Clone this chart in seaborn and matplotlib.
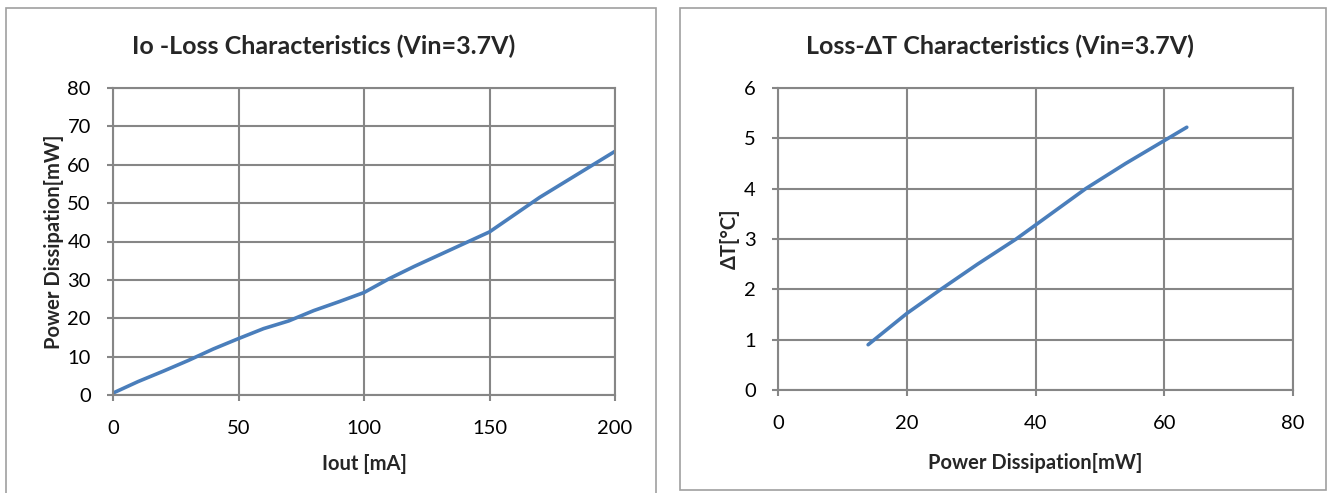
import numpy as np
import matplotlib.pyplot as plt
import pandas as pd
import seaborn as sns
from matplotlib.patches import Rectangle

# dane
iout_ma = [0, 10, 20, 30, 40, 50, 60, 70, 80, 90, 100, 110, 120, 130, 140, 150, 160, 170, 180, 190, 200]
loss_mw = [0.5, 3.5, 6.2, 9.0, 12.0, 14.7, 17.3, 19.3, 22.0, 24.3, 26.7, 30.3, 33.5, 36.5, 39.5, 42.5, 47.0, 51.5, 55.5, 59.5, 63.5]

loss2_mw = [14.0, 20.0, 25.3, 31.0, 37.0, 41.0, 47.8, 54.0, 60.6, 63.5]
delta_t = [0.9, 1.52, 2.0, 2.5, 3.0, 3.37, 4.0, 4.5, 5.0, 5.22]

sns.set_style("white")
plt.rcParams['font.family'] = ['Lato', 'DejaVu Sans']

BLUE = '#4A7EBB'
GRID = '#868686'
W, H = 1329, 493

fig = plt.figure(figsize=(W / 100, H / 100), dpi=100)

# ramki wykresow (jak w Excelu)
fig.patches.append(Rectangle((6 / W, -0.01), 650 / W, 1 - 8 / H + 0.01, transform=fig.transFigure,
                             fill=False, edgecolor='#A0A0A0', lw=1.2))
fig.patches.append(Rectangle((680 / W, 1 - 490 / H), 646 / W, (490 - 8) / H, transform=fig.transFigure,
                             fill=False, edgecolor='#A0A0A0', lw=1.2))

ax1 = fig.add_axes([113 / W, 1 - 395 / H, 502 / W, 307 / H])
ax2 = fig.add_axes([778 / W, 1 - 390 / H, 515 / W, 302 / H])

df1 = pd.DataFrame({'x': iout_ma, 'y': loss_mw})
df2 = pd.DataFrame({'x': loss2_mw, 'y': delta_t})
sns.lineplot(data=df1, x='x', y='y', ax=ax1, color=BLUE, lw=2.6)
sns.lineplot(data=df2, x='x', y='y', ax=ax2, color=BLUE, lw=2.6)

ax1.set_xlim(0, 200)
ax1.set_ylim(0, 80)
ax1.set_xticks(np.arange(0, 201, 50))
ax1.set_yticks(np.arange(0, 81, 10))
ax2.set_xlim(0, 80)
ax2.set_ylim(0, 6)
ax2.set_xticks(np.arange(0, 81, 20))
ax2.set_yticks(np.arange(0, 7, 1))

for ax in (ax1, ax2):
    ax.grid(True, color=GRID, lw=1.5)
    ax.set_axisbelow(True)
    for s in ax.spines.values():
        s.set_color(GRID)
        s.set_linewidth(1.5)
    ax.tick_params(axis='both', which='both', direction='out', length=4.5, width=1.5,
                   color=GRID, labelsize=14.5, labelcolor='black')
    ax.tick_params(axis='y', left=True, pad=11.5)
    ax.tick_params(axis='x', bottom=True, pad=13.5)

ax1.set_xlabel('Iout [mA]', fontsize=14.5, fontweight='bold', labelpad=12)
ax1.set_ylabel('Power Dissipation[mW]', fontsize=14.5, fontweight='bold', labelpad=2)
ax2.set_xlabel('Power Dissipation[mW]', fontsize=14.5, fontweight='bold', labelpad=15)
ax2.set_ylabel('ΔT[°C]', fontsize=14.5, fontweight='bold', labelpad=3)

fig.text(324 / W, 1 - 46 / H, 'Io -Loss Characteristics (Vin=3.7V)', ha='center', va='center',
         fontsize=18, fontweight='bold')
fig.text(1000 / W, 1 - 46 / H, 'Loss-ΔT Characteristics (Vin=3.7V)', ha='center', va='center',
         fontsize=18, fontweight='bold')

fig.savefig('out.png', dpi=100)
